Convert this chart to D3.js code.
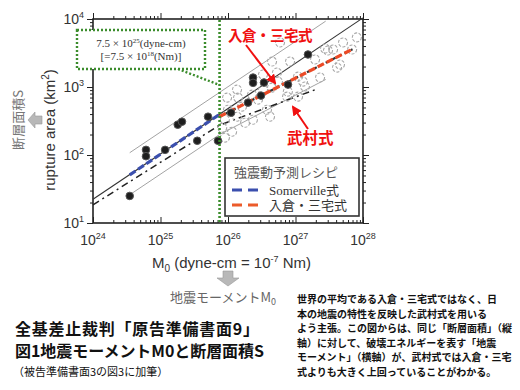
<!DOCTYPE html>
<html><head><meta charset="utf-8">
<script src="https://cdn.jsdelivr.net/npm/d3@7"></script>
<style>body{margin:0;background:#fff}</style>
</head><body><svg id="c" width="520" height="390"></svg>
<script>
// ---------- data ----------
const xMajor = [1e24, 1e25, 1e26, 1e27, 1e28];
const xExp = ["24", "25", "26", "27", "28"];
const yMajor = [10, 100, 1000, 10000];
const yExp = ["1", "2", "3", "4"];

const filledPts = [
  [3.5e24, 25], [6.1e24, 119], [6.1e24, 96], [1.17e25, 119], [1.8e25, 279], [2.08e25, 309],
  [3.5e25, 162], [5.06e25, 366], [7.1e25, 162], [1.11e26, 419], [1.98e26, 589],
  [2.35e26, 1376], [2.35e26, 1150], [3.41e26, 1161], [3.08e26, 747], [7.74e26, 1084], [1.53e27, 3006]
];
const openPts = [
  [9.0e25, 330], [1.0e26, 464], [9.7e25, 698], [8.2e25, 252], [1.15e26, 220], [1.36e26, 916],
  [1.41e26, 698], [1.61e26, 514], [1.36e26, 366], [1.79e26, 298], [2.27e26, 773], [2.78e26, 652],
  [2.34e26, 330], [3.78e26, 464], [4.19e26, 366], [3.3e26, 1524], [3.3e26, 916], [4.49e26, 980],
  [5.32e26, 1630], [5.5e26, 1200], [5.9e26, 4520], [8.3e26, 2370], [7.7e26, 855], [7.5e26, 721],
  [1.09e27, 1420], [1.29e27, 1200], [1.09e27, 721], [1.95e27, 2540], [2.74e27, 3680], [3.03e27, 3440],
  [2.31e27, 1380], [4.12e27, 1930], [5.06e27, 4520], [8.1e27, 5360], [9.0e25, 180], [1.38e27, 1015],
  [4.49e26, 2370], [3.6e27, 3560], [6.9e27, 3560], [4.56e27, 2140]
];
const somervilleLine = [[1e24, 22.3], [1e28, 10400]];
const somervilleRecipe = [[3.5e24, 51], [7.5e25, 396]];
const irikuraRecipe = [[7.5e25, 367], [7e27, 3600]];
const upperBand = [[3.5e24, 108], [2.8e27, 9300]];
const lowerBand = [[3.5e24, 26], [7.5e25, 200], [2.8e27, 1290]];
const takemuraLine = [[1e24, 18.5], [7.5e25, 275], [2.0e27, 920]];
const breakMoment = 7.5e25;

const legendTitle = "強震動予測レシピ";
const legendItems = [["Somerville式", "#3b4fae"], ["入倉・三宅式", "#ec5b2a"]];
const titleLines = ["全基差止裁判「原告準備書面9」", "図1地震モーメントM0と断層面積S"];
const subTitle = "（被告準備書面3の図3に加筆）";
const noteLines = [
  "世界の平均である入倉・三宅式ではなく、日",
  "本の地震の特性を反映した武村式を用いる",
  "よう主張。この図からは、同じ「断層面積」（縦",
  "軸）に対して、破壊エネルギーを表す「地震",
  "モーメント」（横軸）が、武村式では入倉・三宅",
  "式よりも大きく上回っていることがわかる。"
];

// ---------- chart ----------
const svg = d3.select("#c");
const L = 93, R = 363, T = 19, B = 223;
const x = d3.scaleLog().domain([1e24, 1e28]).range([L, R]);
const y = d3.scaleLog().domain([10, 1e4]).range([B, T]);
const sans = "'Liberation Sans', Arial, sans-serif";
const serif = "'Liberation Serif', 'DejaVu Serif', 'Noto Sans CJK JP', serif";
const cjk = "'Noto Sans CJK JP', sans-serif";
const green = "#3b8c2c";

const xMinor = x.ticks().filter(v => !xMajor.includes(v));
const yMinor = y.ticks().filter(v => !yMajor.includes(v));

const axG = svg.append("g");
function drawAxis(gen, tr, vals, size) {
  axG.append("g").attr("transform", tr)
    .call(gen.tickValues(vals).tickSize(size).tickFormat(""))
    .call(g => g.select(".domain").remove())
    .call(g => g.selectAll("line").attr("stroke", "#222").attr("stroke-width", 1));
}
drawAxis(d3.axisBottom(x), `translate(0,${B})`, xMajor, -6);
drawAxis(d3.axisBottom(x), `translate(0,${B})`, xMinor, -3);
drawAxis(d3.axisTop(x), `translate(0,${T})`, xMajor, 6);
drawAxis(d3.axisTop(x), `translate(0,${T})`, xMinor, 3);
drawAxis(d3.axisLeft(y), `translate(${L},0)`, yMajor, 6);
drawAxis(d3.axisLeft(y), `translate(${L},0)`, yMinor, 3);
drawAxis(d3.axisRight(y), `translate(${R},0)`, yMajor, 6);
drawAxis(d3.axisRight(y), `translate(${R},0)`, yMinor, 3);

svg.append("rect").attr("x", L).attr("y", T).attr("width", R - L).attr("height", B - T)
  .attr("fill", "none").attr("stroke", "#222").attr("stroke-width", 1.6);

// tick labels
xMajor.forEach((v, i) => {
  const t = svg.append("text").attr("x", x(v)).attr("y", 245).attr("text-anchor", "middle")
    .attr("font-family", sans).attr("font-size", 14).attr("fill", "#333");
  t.append("tspan").text("10");
  t.append("tspan").attr("dy", -6).attr("font-size", 9).text(xExp[i]);
});
yMajor.forEach((v, i) => {
  const t = svg.append("text").attr("x", 84).attr("y", y(v) + 5).attr("text-anchor", "end")
    .attr("font-family", sans).attr("font-size", 14).attr("fill", "#333");
  t.append("tspan").text("10");
  t.append("tspan").attr("dy", -6).attr("font-size", 9).text(yExp[i]);
});

const line = d3.line().x(d => x(d[0])).y(d => y(d[1]));
const plot = svg.append("g");

plot.append("path").datum(upperBand).attr("d", line).attr("fill", "none").attr("stroke", "#999").attr("stroke-width", 0.9);
plot.append("path").datum(lowerBand).attr("d", line).attr("fill", "none").attr("stroke", "#999").attr("stroke-width", 0.9);
plot.append("path").datum(somervilleLine).attr("d", line).attr("fill", "none").attr("stroke", "#333").attr("stroke-width", 1.1);
plot.append("path").datum(takemuraLine).attr("d", line).attr("fill", "none").attr("stroke", "#222")
  .attr("stroke-width", 1.5).attr("stroke-dasharray", "7,4,2,4");

// open circles
plot.selectAll("circle.o").data(openPts).join("circle").attr("class", "o")
  .attr("cx", d => x(d[0])).attr("cy", d => y(d[1])).attr("r", 4.5)
  .attr("fill", "none").attr("stroke", "#a8a8a8").attr("stroke-width", 1.1).attr("stroke-dasharray", "3,1.5");

// recipe dashed lines
plot.append("path").datum(irikuraRecipe).attr("d", line).attr("fill", "none").attr("stroke", "#333")
  .attr("stroke-width", 2.2).attr("stroke-dasharray", "4,3");
plot.append("path").datum(somervilleRecipe).attr("d", line).attr("fill", "none").attr("stroke", "#3b4fae")
  .attr("stroke-width", 3.2).attr("stroke-dasharray", "7,3");
plot.append("path").datum(irikuraRecipe).attr("d", line).attr("fill", "none").attr("stroke", "#ec4a26")
  .attr("stroke-width", 3.2).attr("stroke-dasharray", "7,3");

// filled circles
plot.selectAll("circle.f").data(filledPts).join("circle").attr("class", "f")
  .attr("cx", d => x(d[0])).attr("cy", d => y(d[1])).attr("r", 3.8)
  .attr("fill", "#1e1e1e").attr("stroke", "#555").attr("stroke-width", 1);

// green dotted break line and callout
svg.append("line").attr("x1", x(breakMoment)).attr("x2", x(breakMoment)).attr("y1", T + 1).attr("y2", B)
  .attr("stroke", green).attr("stroke-width", 2.6).attr("stroke-dasharray", "2,2");
svg.append("rect").attr("x", 77).attr("y", 30).attr("width", 128).attr("height", 39)
  .attr("fill", "#fff").attr("stroke", green).attr("stroke-width", 2.4).attr("stroke-dasharray", "2,2");
svg.append("line").attr("x1", 178).attr("y1", 69).attr("x2", x(breakMoment)).attr("y2", 85)
  .attr("stroke", green).attr("stroke-width", 2.4).attr("stroke-dasharray", "2,2");
const c1 = svg.append("text").attr("x", 141).attr("y", 47).attr("text-anchor", "middle")
  .attr("font-family", serif).attr("font-size", 11).attr("fill", "#333");
c1.append("tspan").text("7.5 × 10");
c1.append("tspan").attr("dy", -4).attr("font-size", 7).text("25");
c1.append("tspan").attr("dy", 4).text("(dyne-cm)");
const c2 = svg.append("text").attr("x", 141).attr("y", 60).attr("text-anchor", "middle")
  .attr("font-family", serif).attr("font-size", 11).attr("fill", "#333");
c2.append("tspan").text("[=7.5 × 10");
c2.append("tspan").attr("dy", -4).attr("font-size", 7).text("18");
c2.append("tspan").attr("dy", 4).text("(Nm)]");

// legend
svg.append("rect").attr("x", 225).attr("y", 158).attr("width", 134).attr("height", 58)
  .attr("fill", "#fff").attr("stroke", "#333").attr("stroke-width", 1.6);
svg.append("text").attr("x", 234).attr("y", 177).attr("font-family", cjk).attr("font-size", 13)
  .attr("fill", "#555").text(legendTitle);
legendItems.forEach((it, i) => {
  const yy = 190 + i * 15;
  svg.append("line").attr("x1", 232).attr("x2", 263).attr("y1", yy).attr("y2", yy)
    .attr("stroke", it[1]).attr("stroke-width", 3).attr("stroke-dasharray", "10,6");
  svg.append("text").attr("x", 269).attr("y", yy + 5).attr("font-family", serif)
    .attr("font-size", 13).attr("fill", "#333").text(it[0]);
});

// red annotations
const defs = svg.append("defs");
defs.append("marker").attr("id", "ah").attr("viewBox", "0 0 10 10").attr("refX", 8).attr("refY", 5)
  .attr("markerWidth", 5).attr("markerHeight", 5).attr("orient", "auto")
  .append("path").attr("d", "M0,0L10,5L0,10z").attr("fill", "#f01010");
svg.append("text").attr("x", 228).attr("y", 41).attr("font-family", cjk).attr("font-weight", 700)
  .attr("font-size", 14.5).attr("fill", "#f01010").attr("letter-spacing", -0.5).text("入倉・三宅式");
svg.append("line").attr("x1", 246).attr("y1", 45).attr("x2", 275).attr("y2", 83)
  .attr("stroke", "#f01010").attr("stroke-width", 2).attr("marker-end", "url(#ah)");
svg.append("text").attr("x", 287).attr("y", 144).attr("font-family", cjk).attr("font-weight", 700)
  .attr("font-size", 15.5).attr("fill", "#f01010").text("武村式");
svg.append("line").attr("x1", 308).attr("y1", 129).attr("x2", 293).attr("y2", 107)
  .attr("stroke", "#f01010").attr("stroke-width", 2).attr("marker-end", "url(#ah)");

// axis titles
const yl = svg.append("text").attr("transform", "translate(55,130) rotate(-90)").attr("text-anchor", "middle")
  .attr("font-family", sans).attr("font-size", 15).attr("fill", "#333");
yl.append("tspan").text("rupture area (km");
yl.append("tspan").attr("dy", -6).attr("font-size", 10).text("2");
yl.append("tspan").attr("dy", 6).text(")");

svg.append("text").attr("transform", "translate(23,120) rotate(-90)").attr("text-anchor", "middle")
  .attr("font-family", cjk).attr("font-size", 13).attr("fill", "#777").text("断層面積S");
svg.append("path").attr("d", "M28,120 L35,112 L35,116 L42,116 L42,124 L35,124 L35,128 Z")
  .attr("fill", "#b8b8b8").attr("stroke", "#999").attr("stroke-width", 0.6);

const xl = svg.append("text").attr("x", 152).attr("y", 268)
  .attr("font-family", sans).attr("font-size", 15).attr("fill", "#333");
xl.append("tspan").text("M");
xl.append("tspan").attr("dy", 4).attr("font-size", 10).text("0");
xl.append("tspan").attr("dy", -4).text(" (dyne-cm = 10");
xl.append("tspan").attr("dy", -6).attr("font-size", 9).text("-7");
xl.append("tspan").attr("dy", 6).text(" Nm)");

svg.append("path").attr("d", "M223,271 L233,271 L233,278 L239,278 L228,286 L217,278 L223,278 Z")
  .attr("fill", "#b8b8b8").attr("stroke", "#999").attr("stroke-width", 0.6);
const ml = svg.append("text").attr("x", 170).attr("y", 302).attr("font-family", cjk)
  .attr("font-size", 13).attr("fill", "#666");
ml.append("tspan").text("地震モーメントM");
ml.append("tspan").attr("dy", 3).attr("font-size", 9).text("0");

// bottom texts
const titleWidths = [244, 249];
titleLines.forEach((t, i) => {
  svg.append("text").attr("x", 15).attr("y", 335 + i * 22).attr("font-family", cjk).attr("font-weight", 700)
    .attr("font-size", 16).attr("fill", "#111")
    .attr("textLength", titleWidths[i]).attr("lengthAdjust", "spacing").text(t);
});
svg.append("text").attr("x", 13).attr("y", 376).attr("font-family", cjk)
  .attr("font-size", 11).attr("fill", "#111").text(subTitle);
noteLines.forEach((t, i) => {
  svg.append("text").attr("x", 297).attr("y", 303 + i * 14.6).attr("font-family", cjk).attr("font-weight", 700)
    .attr("font-size", 10).attr("fill", "#111").text(t);
});
</script></body></html>
